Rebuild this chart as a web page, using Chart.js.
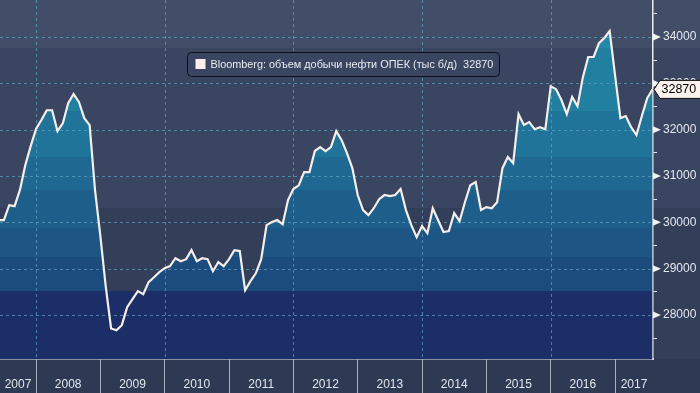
<!DOCTYPE html>
<html lang="ru">
  <head>
    <meta charset="UTF-8" />
    <title>ОПЕК</title>
    <script src="https://cdn.jsdelivr.net/npm/chart.js"></script>
    <style>
      html,
      body {
        margin: 0;
        padding: 0;
        background: #2e3953;
      }
      #wrap {
        width: 700px;
        height: 393px;
        position: relative;
      }
    </style>
  </head>
  <body>
    <div id="wrap"><canvas id="chart"></canvas></div>
    <script>
      // monthly series, June 2007 .. August 2017
      const seriesLabel = "Bloomberg: объем добычи нефти ОПЕК (тыс б/д)";
      const startYear = 2007;
      const startMonth = 5; // June, zero based
      const opecOutput = [
        30050, 30050, 30370, 30350, 30700, 31235, 31645, 32015, 32210, 32420,
        32420, 31970, 32140, 32575, 32770, 32600, 32250, 32100, 30700, 29700,
        28620, 27710, 27670, 27780, 28170, 28340, 28515, 28450, 28710, 28815,
        28925, 29010, 29055, 29225, 29160, 29205, 29400, 29160, 29225, 29205,
        28945, 29140, 29055, 29205, 29400, 29380, 28535, 28730, 28900, 29205,
        29940, 30005, 30050, 29960, 30480, 30720, 30800, 31085, 31085, 31540,
        31625, 31540, 31625, 31970, 31775, 31495, 31170, 30590, 30265, 30155,
        30305, 30500, 30590, 30565, 30590, 30720, 30265, 29940, 29680, 29920,
        29765, 30305, 30045, 29790, 29810, 30200, 30025, 30435, 30800, 30870,
        30265, 30330, 30305, 30435, 31170, 31410, 31280, 32335, 32100, 32165,
        32010, 32055, 32010, 32940, 32875, 32640, 32335, 32705, 32510, 33135,
        33570, 33570, 33870, 33980, 34130, 33180, 32250, 32295, 32055, 31885,
        32295, 32680, 32870,
      ];
      const yearLabels = [2007, 2008, 2009, 2010, 2011, 2012, 2013, 2014, 2015, 2016, 2017];
      const gridYears = [2008, 2010, 2012, 2014, 2016];
      const yMajorTicks = [28000, 29000, 30000, 31000, 32000, 33000, 34000];
      const yMinorTicks = [27500, 28500, 29500, 30500, 31500, 32500, 33500, 34500];

      const points = opecOutput.map((v, i) => ({
        x: startYear + (startMonth + i) / 12,
        y: v,
      }));
      const lastValue = opecOutput[opecOutput.length - 1];

      // band shading, as fractions of the plot height
      const bgBands = [
        [0, 0.134, "#424e68"],
        [0.134, 0.58, "#3a4661"],
        [0.58, 1, "#333e59"],
      ];
      const navyFrom = 0.811;
      const fillBands = [
        [0, 0.134, "#2489a8"],
        [0.134, 0.309, "#21809f"],
        [0.309, 0.437, "#207399"],
        [0.437, 0.529, "#1f6891"],
        [0.529, 0.635, "#1e5e8a"],
        [0.635, 0.716, "#1d5584"],
        [0.716, 0.811, "#1c4c7e"],
        [0.811, 1, "#1c2e68"],
      ];
      const dashColor = "rgba(96,162,192,0.7)";
      const font = '"Liberation Sans", sans-serif';

      const bandFill = (context) => {
        const { chart } = context;
        const a = chart.chartArea;
        if (!a) return null;
        const g = chart.ctx.createLinearGradient(0, a.top, 0, a.bottom);
        fillBands.forEach(([f0, f1, c]) => {
          g.addColorStop(f0, c);
          g.addColorStop(f1, c);
        });
        return g;
      };

      const noPad = (s) => {
        s.paddingTop = 0;
        s.paddingBottom = 0;
        s.paddingLeft = 0;
        s.paddingRight = 0;
      };

      const drawDashedGrid = (chart) => {
        const { ctx, chartArea: a } = chart;
        const xs = chart.scales.x;
        const ys = chart.scales.y;
        ctx.save();
        ctx.strokeStyle = dashColor;
        ctx.lineWidth = 1;
        ctx.setLineDash([3, 3]);
        yMajorTicks.forEach((v) => {
          const y = Math.round(ys.getPixelForValue(v)) + 0.5;
          ctx.beginPath();
          ctx.moveTo(a.left, y);
          ctx.lineTo(a.right - 1, y);
          ctx.stroke();
        });
        gridYears.forEach((yr) => {
          const x = Math.round(xs.getPixelForValue(yr)) + 0.5;
          ctx.beginPath();
          ctx.moveTo(x, a.top);
          ctx.lineTo(x, a.bottom - 1);
          ctx.stroke();
        });
        ctx.restore();
      };

      const decor = {
        id: "decor",
        beforeDraw(chart) {
          const { ctx, chartArea: a, width, height } = chart;
          const h = a.bottom - a.top;
          ctx.save();
          ctx.fillStyle = "#2e3953";
          ctx.fillRect(0, 0, width, height);
          bgBands.forEach(([f0, f1, c]) => {
            ctx.fillStyle = c;
            ctx.fillRect(0, a.top + f0 * h, width, (f1 - f0) * h);
          });
          ctx.fillStyle = "#1c2e68";
          ctx.fillRect(a.left, a.top + navyFrom * h, a.right - a.left, a.bottom - (a.top + navyFrom * h));
          ctx.restore();
        },
        afterDatasetDraw(chart, args) {
          // grid sits on the area fill but under the white line
          if (args.index === 1) drawDashedGrid(chart);
        },
        afterDraw(chart) {
          const { ctx, chartArea: a, width } = chart;
          const xs = chart.scales.x;
          const ys = chart.scales.y;
          ctx.save();

          // year labels, centred on the visible part of each year
          ctx.font = "12px " + font;
          ctx.fillStyle = "#e2e6ee";
          ctx.textAlign = "center";
          ctx.textBaseline = "middle";
          yearLabels.forEach((yr) => {
            const l = Math.max(xs.getPixelForValue(yr), a.left);
            const r = Math.min(xs.getPixelForValue(yr + 1), a.right);
            if (r - l > 10) ctx.fillText(String(yr), (l + r) / 2, a.bottom + 26);
          });

          // arrow marks on major y ticks
          ctx.fillStyle = "#f2f2f2";
          yMajorTicks.forEach((v) => {
            const y = ys.getPixelForValue(v);
            ctx.beginPath();
            ctx.moveTo(a.right, y - 3.5);
            ctx.lineTo(a.right + 8, y);
            ctx.lineTo(a.right, y + 3.5);
            ctx.closePath();
            ctx.fill();
          });

          // last value tag
          const yv = ys.getPixelForValue(lastValue);
          ctx.beginPath();
          ctx.moveTo(a.right + 1, yv);
          ctx.lineTo(a.right + 7, yv - 9);
          ctx.lineTo(width + 2, yv - 9);
          ctx.lineTo(width + 2, yv + 9);
          ctx.lineTo(a.right + 7, yv + 9);
          ctx.closePath();
          ctx.fillStyle = "#fdf3ee";
          ctx.fill();
          ctx.strokeStyle = "#111";
          ctx.lineWidth = 1;
          ctx.stroke();
          ctx.fillStyle = "#000";
          ctx.textAlign = "left";
          ctx.font = "12.5px " + font;
          ctx.fillText(String(lastValue), a.right + 8.5, yv + 0.5);

          // legend box
          const bx = 187.5, by = 52.5, bw = 312, bh = 24;
          ctx.beginPath();
          ctx.roundRect(bx, by, bw, bh, 4);
          ctx.fillStyle = "#3a4661";
          ctx.fill();
          ctx.strokeStyle = "#0c0f16";
          ctx.stroke();
          ctx.fillStyle = "#fdf0ea";
          ctx.fillRect(bx + 8, by + 6.5, 10, 10);
          const txt = seriesLabel + "  " + lastValue;
          ctx.font = "11px " + font;
          const wTarget = 283;
          const size = Math.min(12, (11 * wTarget) / ctx.measureText(txt).width);
          ctx.font = size.toFixed(2) + "px " + font;
          ctx.fillStyle = "#e8eaf0";
          ctx.fillText(txt, bx + 23, by + bh / 2 + 0.5);
          ctx.restore();
        },
      };

      new Chart(document.getElementById("chart"), {
        type: "line",
        data: {
          datasets: [
            {
              // the white line, drawn last
              label: seriesLabel,
              data: points,
              borderColor: "#f4efea",
              borderWidth: 2.2,
              fill: false,
              pointRadius: 0,
              tension: 0,
            },
            {
              // the banded area under it
              label: "fill",
              data: points,
              borderWidth: 0,
              borderColor: "rgba(0,0,0,0)",
              backgroundColor: bandFill,
              fill: "start",
              pointRadius: 0,
              tension: 0,
            },
          ],
        },
        options: {
          responsive: true,
          maintainAspectRatio: false,
          animation: false,
          layout: { padding: 0 },
          plugins: {
            legend: { display: false },
            tooltip: { enabled: false },
          },
          scales: {
            x: {
              type: "linear",
              min: 2007.44,
              max: 2017.59,
              afterBuildTicks: (s) => {
                s.ticks = yearLabels.slice(1).map((v) => ({ value: v }));
              },
              afterFit: (s) => {
                s.height = 34;
                noPad(s);
              },
              ticks: { display: false },
              grid: {
                drawOnChartArea: false,
                tickColor: "#a9b1c0",
                tickLength: 34,
                lineWidth: 1,
              },
              border: { color: "#ececec", width: 1.5 },
            },
            y: {
              position: "right",
              min: 27050,
              max: 34800,
              afterBuildTicks: (s) => {
                s.ticks = yMajorTicks
                  .concat(yMinorTicks)
                  .sort((p, q) => p - q)
                  .map((v) => ({ value: v }));
              },
              afterFit: (s) => {
                s.width = 47;
                noPad(s);
              },
              ticks: {
                autoSkip: false,
                padding: 6,
                color: "#e4e7ee",
                font: { family: "Liberation Sans", size: 12 },
                callback: (v) => (yMajorTicks.includes(v) ? String(v) : ""),
              },
              grid: {
                drawOnChartArea: false,
                tickColor: "#e8e8e8",
                tickLength: 4,
                lineWidth: 1,
              },
              border: { color: "#ececec", width: 1.5 },
            },
          },
        },
        plugins: [decor],
      });
    </script>
  </body>
</html>
